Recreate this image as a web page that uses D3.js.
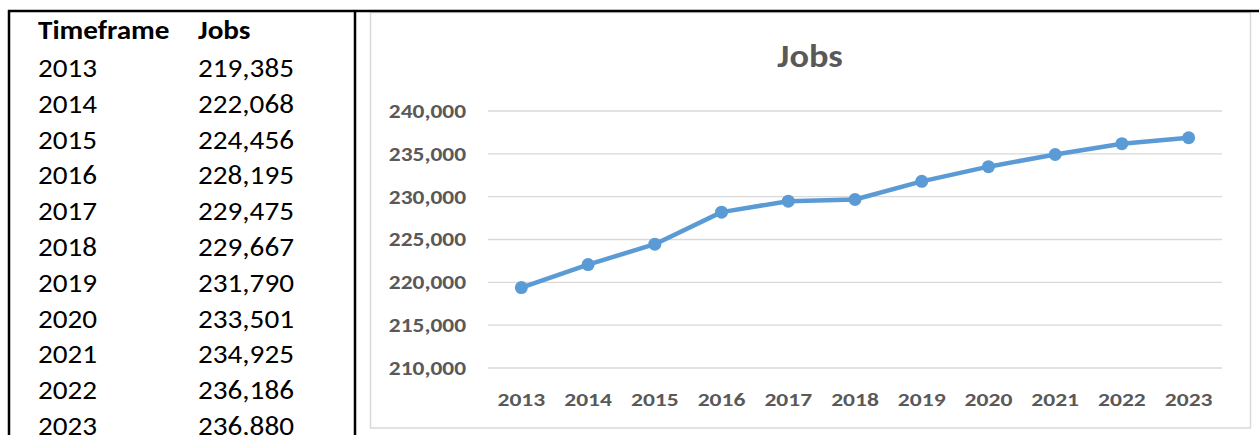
<!DOCTYPE html>
<html>
<head>
<meta charset="utf-8">
<script src="https://cdn.jsdelivr.net/npm/d3@7"></script>
<style>
  body { margin: 0; background: #fff; }
  text { font-family: Carlito, Calibri, Lato, "Open Sans", sans-serif; }
</style>
</head>
<body>
<script>
// data
var years = ["2013", "2014", "2015", "2016", "2017", "2018", "2019", "2020", "2021", "2022", "2023"];
var jobs = [219385, 222068, 224456, 228195, 229475, 229667, 231790, 233501, 234925, 236186, 236880];
var y_ticks = [210000, 215000, 220000, 225000, 230000, 235000, 240000];
var table_head = ["Timeframe", "Jobs"];

var width = 1259, height = 435;
var svg = d3.select("body").append("svg").attr("width", width).attr("height", height);
var fmt = d3.format(",");

// 字体替代 Calibri，横向稍微拉宽
function place(x, y, sx) {
    return "translate(" + x + "," + y + ") scale(" + sx + ",1)";
}

// 表格
var tbl = svg.append("g");
var tbl_sx = 1.08, tbl_fs = 27;
tbl.append("text").attr("transform", place(38, 39, tbl_sx)).text(table_head[0])
    .attr("font-size", tbl_fs).attr("font-weight", "bold").attr("fill", "#000");
tbl.append("text").attr("transform", place(198, 39, tbl_sx)).text(table_head[1])
    .attr("font-size", tbl_fs).attr("font-weight", "bold").attr("fill", "#000");
var row_y = d3.scaleLinear().domain([0, 10]).range([77, 435]);
tbl.selectAll("text.yr").data(years).enter().append("text").attr("class", "yr")
    .attr("transform", function(d, i) { return place(38, row_y(i), tbl_sx); })
    .attr("font-size", tbl_fs).attr("fill", "#000").text(function(d) { return d; });
tbl.selectAll("text.jv").data(jobs).enter().append("text").attr("class", "jv")
    .attr("transform", function(d, i) { return place(198, row_y(i), tbl_sx); })
    .attr("font-size", tbl_fs).attr("fill", "#000").text(function(d) { return fmt(d); });

// 图表边框
svg.append("rect").attr("x", 370.5).attr("y", 12.5).attr("width", 880).attr("height", 415.5)
    .attr("fill", "none").attr("stroke", "#d9d9d9").attr("stroke-width", 1.5);

// 表格边框
svg.append("line").attr("x1", 8).attr("y1", 11).attr("x2", width).attr("y2", 11)
    .attr("stroke", "#000").attr("stroke-width", 2.5);
svg.append("line").attr("x1", 9).attr("y1", 10).attr("x2", 9).attr("y2", height)
    .attr("stroke", "#000").attr("stroke-width", 2.5);
svg.append("line").attr("x1", 355).attr("y1", 10).attr("x2", 355).attr("y2", height)
    .attr("stroke", "#000").attr("stroke-width", 2.5);

// scales
var x = d3.scaleBand().domain(years).range([488, 1222]);
var y = d3.scaleLinear().domain([210000, 240000]).range([368, 111]);

// grid
svg.append("g").selectAll("line").data(y_ticks).enter().append("line")
    .attr("x1", 488).attr("x2", 1222)
    .attr("y1", function(d) { return y(d); }).attr("y2", function(d) { return y(d); })
    .attr("stroke", "#d9d9d9").attr("stroke-width", 1.3);

// axes
var yAxis = svg.append("g").attr("transform", "translate(466,0)")
    .call(d3.axisLeft(y).tickValues(y_ticks).tickFormat(fmt).tickSize(0).tickPadding(0));
yAxis.select(".domain").remove();
yAxis.selectAll("text").attr("font-size", 20).attr("font-weight", "bold").attr("fill", "#595959")
    .attr("transform", "scale(1.17,1)")
    .style("font-family", "Carlito, Calibri, Lato, sans-serif");

var xAxis = svg.append("g").attr("transform", "translate(0,393)")
    .call(d3.axisBottom(x).tickSize(0).tickPadding(0));
xAxis.select(".domain").remove();
xAxis.selectAll("text").attr("font-size", 19).attr("font-weight", "bold").attr("fill", "#595959")
    .attr("transform", "scale(1.24,1)")
    .style("font-family", "Carlito, Calibri, Lato, sans-serif");

// title
svg.append("text").attr("transform", place(810, 67, 1.1)).attr("text-anchor", "middle")
    .attr("font-size", 33).attr("font-weight", "bold").attr("fill", "#595959").text("Jobs");

// line + markers
var line = d3.line()
    .x(function(d, i) { return x(years[i]) + x.bandwidth() / 2; })
    .y(function(d) { return y(d); });
svg.append("path").datum(jobs).attr("d", line)
    .attr("fill", "none").attr("stroke", "#5b9bd5").attr("stroke-width", 4.5)
    .attr("stroke-linejoin", "round").attr("stroke-linecap", "round");
svg.append("g").selectAll("circle").data(jobs).enter().append("circle")
    .attr("cx", function(d, i) { return x(years[i]) + x.bandwidth() / 2; })
    .attr("cy", function(d) { return y(d); })
    .attr("r", 6.5).attr("fill", "#5b9bd5");
</script>
</body>
</html>
